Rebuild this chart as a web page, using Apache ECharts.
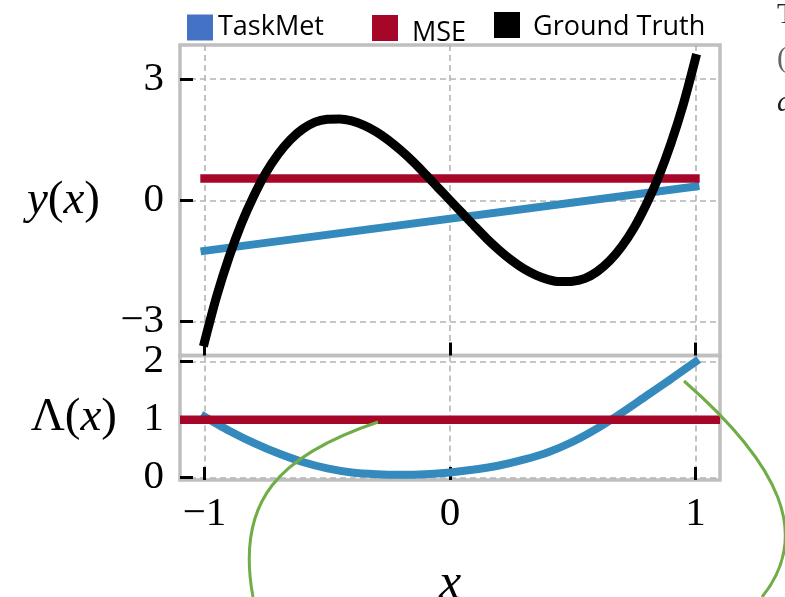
<!DOCTYPE html>
<html>
<head>
<meta charset="utf-8">
<title>TaskMet vs MSE</title>
<script src="https://cdn.jsdelivr.net/npm/echarts@6/dist/echarts.min.js"></script>
<style>
  html, body { margin: 0; padding: 0; background: #ffffff; }
  #chart { width: 785px; height: 597px; }
</style>
</head>
<body>
<div id="chart"></div>
<script>
// Ground-truth function y(x), sampled every 0.05 on [-1, 1]
const gtX = [-1.00, -0.95, -0.90, -0.85, -0.80, -0.75, -0.70, -0.65, -0.60, -0.55,
             -0.50, -0.45, -0.40, -0.35, -0.30, -0.25, -0.20, -0.15, -0.10, -0.05,
              0.00,  0.05,  0.10,  0.15,  0.20,  0.25,  0.30,  0.35,  0.40,  0.45,
              0.50,  0.55,  0.60,  0.65,  0.70,  0.75,  0.80,  0.85,  0.90,  0.95, 1.00];
const gtY = [-3.50, -2.36, -1.40, -0.58,  0.10,  0.68,  1.14,  1.50,  1.76,  1.93,
              2.00,  2.01,  1.96,  1.85,  1.69,  1.48,  1.23,  0.95,  0.64,  0.32,
              0.00, -0.32, -0.64, -0.95, -1.23, -1.48, -1.69, -1.85, -1.96, -2.01,
             -2.00, -1.93, -1.76, -1.50, -1.14, -0.68, -0.10,  0.58,  1.40,  2.36, 3.50];

// Fitted linear models (end points at x = -1 and x = 1)
const fitX = [-1, 1];
const taskMetFit = [-1.25, 0.34];
const mseFit = [0.54, 0.54];

// Learned metric Λ(x), sampled every 0.1 on [-1, 1]
const lambdaX = [-1.0, -0.9, -0.8, -0.7, -0.6, -0.5, -0.4, -0.3, -0.2, -0.1,
                  0.0,  0.1,  0.2,  0.3,  0.4,  0.5,  0.6,  0.7,  0.8,  0.9, 1.0];
const taskMetLambda = [1.05, 0.81, 0.60, 0.42, 0.27, 0.16, 0.09, 0.06, 0.05, 0.06,
                       0.09, 0.14, 0.21, 0.31, 0.44, 0.62, 0.85, 1.12, 1.41, 1.70, 2.00];
// MSE uses a constant metric across the whole axis
const mseLambdaX = [-1.1, 1.1];
const mseLambda = [1, 1];

// Tick positions
const xTicks = [-1, 0, 1];
const yTicks = [-3, 0, 3];
const lambdaTicks = [0, 1, 2];

const BLUE = '#348ABD';
const RED = '#A60628';
const BLACK = '#000000';
const GRID_GRAY = '#b4b4b4';
const FRAME_GRAY = '#bfbfbf';
const SERIF = 'Liberation Serif';

const pairs = (xs, ys) => xs.map((x, i) => [x, ys[i]]);
const fmt = v => (v < 0 ? '\u2212' + Math.abs(v) : String(v));

const tickStyle = { show: true, inside: true, length: 13, lineStyle: { color: '#000', width: 3 } };
const splitStyle = { show: true, lineStyle: { color: GRID_GRAY, width: 1.6, type: [6, 4] } };
const hiddenLine = { show: false, onZero: false };
const labelFont = { fontFamily: SERIF, fontSize: 41, color: '#000' };
const nameRich = {
  i: { fontFamily: SERIF, fontStyle: 'italic', fontSize: 47, color: '#000' },
  r: { fontFamily: SERIF, fontSize: 47, color: '#000' }
};
// legend labels: each entry gets its own offset from its swatch
const legendLabel = padding => ({
  fontFamily: 'Open Sans', fontSize: 27, color: '#000',
  rich: { t: { fontFamily: 'Open Sans', fontSize: 27, color: '#000', padding: padding } }
});
const legendBase = { icon: 'rect', itemWidth: 26, itemHeight: 26, selectedMode: false, padding: 0,
                     formatter: '{t|{name}}' };

const chart = echarts.init(document.getElementById('chart'), null, { renderer: 'canvas' });

const option = {
  animation: false,
  backgroundColor: '#ffffff',
  legend: [
    Object.assign({}, legendBase, {
      data: [{ name: 'TaskMet', itemStyle: { color: '#4472C4', borderWidth: 0 } }],
      left: 187, top: 14, textStyle: legendLabel([0, 0, 0, 0]) }),
    Object.assign({}, legendBase, {
      data: [{ name: 'MSE', itemStyle: { color: RED, borderWidth: 0 } }],
      left: 372, top: 15, textStyle: legendLabel([11, 0, 0, 9]) }),
    Object.assign({}, legendBase, {
      data: [{ name: 'Ground Truth', itemStyle: { color: BLACK, borderWidth: 0 } }],
      left: 494, top: 12, textStyle: legendLabel([4, 0, 0, 8]) })
  ],
  grid: [
    { left: 180, top: 45, width: 540, height: 310.5, show: true, borderColor: FRAME_GRAY, borderWidth: 3.5,
      outerBoundsMode: 'none', containLabel: false },
    { left: 180, top: 355.5, width: 540, height: 124.5, show: true, borderColor: FRAME_GRAY, borderWidth: 3.5,
      outerBoundsMode: 'none', containLabel: false }
  ],
  xAxis: [
    { gridIndex: 0, type: 'value', min: -1.1, max: 1.1,
      axisLine: hiddenLine,
      axisTick: Object.assign({ customValues: xTicks }, tickStyle),
      axisLabel: { show: false, customValues: xTicks },
      splitLine: splitStyle },
    { gridIndex: 1, type: 'value', min: -1.1, max: 1.1,
      axisLine: hiddenLine,
      axisTick: Object.assign({ customValues: xTicks }, tickStyle),
      axisLabel: Object.assign({ customValues: xTicks, formatter: fmt, margin: 14 }, labelFont),
      splitLine: splitStyle,
      name: 'x', nameLocation: 'middle', nameGap: 80,
      nameTextStyle: { fontFamily: SERIF, fontStyle: 'italic', fontSize: 50, color: '#000' } }
  ],
  yAxis: [
    { gridIndex: 0, type: 'value', min: -3.835, max: 3.835,
      axisLine: hiddenLine,
      axisTick: Object.assign({ customValues: yTicks }, tickStyle),
      axisLabel: Object.assign({ customValues: yTicks, formatter: fmt, margin: 16 }, labelFont),
      splitLine: splitStyle,
      name: '{i|y}{r|(}{i|x}{r|)}', nameLocation: 'middle', nameRotate: 0, nameGap: 80,
      nameTextStyle: { rich: nameRich } },
    { gridIndex: 1, type: 'value', min: -0.04, max: 2.107,
      axisLine: hiddenLine,
      axisTick: Object.assign({ customValues: lambdaTicks }, tickStyle),
      axisLabel: Object.assign({ customValues: lambdaTicks, formatter: fmt, margin: 16 }, labelFont),
      splitLine: splitStyle,
      name: '{r|\u039B(}{i|x}{r|)}', nameLocation: 'middle', nameRotate: 0, nameGap: 63,
      nameTextStyle: { rich: nameRich } }
  ],
  series: [
    { name: 'TaskMet', type: 'line', xAxisIndex: 0, yAxisIndex: 0, data: pairs(fitX, taskMetFit),
      showSymbol: false, symbol: 'none', z: 2,
      lineStyle: { color: BLUE, width: 8, cap: 'square' }, itemStyle: { color: BLUE } },
    { name: 'MSE', type: 'line', xAxisIndex: 0, yAxisIndex: 0, data: pairs(fitX, mseFit),
      showSymbol: false, symbol: 'none', z: 3,
      lineStyle: { color: RED, width: 8.5, cap: 'square' }, itemStyle: { color: RED } },
    { name: 'Ground Truth', type: 'line', xAxisIndex: 0, yAxisIndex: 0, data: pairs(gtX, gtY),
      showSymbol: false, symbol: 'none', smooth: 0.3, z: 4,
      lineStyle: { color: BLACK, width: 9, cap: 'square' }, itemStyle: { color: BLACK } },
    { name: 'TaskMet', type: 'line', xAxisIndex: 1, yAxisIndex: 1, data: pairs(lambdaX, taskMetLambda),
      showSymbol: false, symbol: 'none', smooth: 0.3, z: 2,
      lineStyle: { color: BLUE, width: 8, cap: 'square' }, itemStyle: { color: BLUE } },
    { name: 'MSE', type: 'line', xAxisIndex: 1, yAxisIndex: 1, data: pairs(mseLambdaX, mseLambda),
      showSymbol: false, symbol: 'none', z: 3,
      lineStyle: { color: RED, width: 8.5 }, itemStyle: { color: RED } }
  ],
  graphic: [
    // connector strokes running from the metric panel down past the axis
    { type: 'bezierCurve', z: 100, silent: true,
      shape: { x1: 378, y1: 422, cpx1: 280, cpy1: 455, cpx2: 235, cpy2: 500, x2: 253, y2: 597 },
      style: { fill: null, stroke: '#70AD47', lineWidth: 3 } },
    { type: 'bezierCurve', z: 100, silent: true,
      shape: { x1: 684, y1: 381, cpx1: 780, cpy1: 465, cpx2: 812, cpy2: 535, x2: 762, y2: 597 },
      style: { fill: null, stroke: '#70AD47', lineWidth: 3 } },
    // neighbouring text running in from the right edge
    { type: 'text', z: 100, silent: true, x: 777, y: 0,
      style: { text: 'T', font: '30px "Liberation Serif"', fill: '#222' } },
    { type: 'text', z: 100, silent: true, x: 777, y: 44,
      style: { text: '(', font: '30px "Liberation Serif"', fill: '#666' } },
    { type: 'text', z: 100, silent: true, x: 777, y: 88,
      style: { text: 'a', font: 'italic 30px "Liberation Serif"', fill: '#222' } }
  ]
};

chart.setOption(option);
</script>
</body>
</html>
